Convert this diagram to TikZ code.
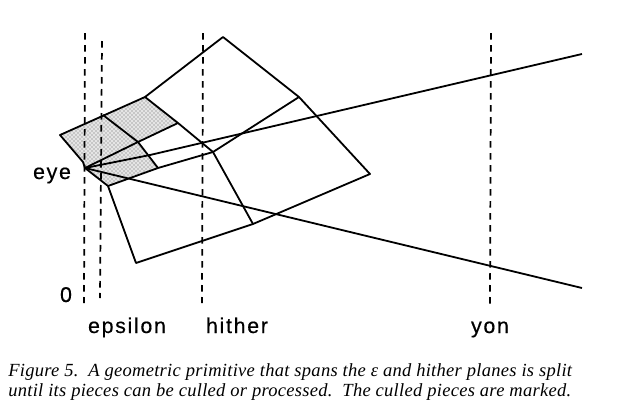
\documentclass[tikz,border=0pt]{standalone}
\usepackage{fontspec}
\usetikzlibrary{patterns}
\newfontfamily\labelfont[LetterSpace=8,FakeBold=0.5]{Liberation Sans}
\newfontfamily\captionfont[Ligatures=TeX,LetterSpace=1.5]{Liberation Serif}
\tikzset{
  plane/.style={line width=1.3pt, dash pattern=on 5pt off 4pt},
  edge/.style={line width=1.35pt, line join=round},
  culled/.style={preaction={fill=black!10}, pattern=crosshatch dots, pattern color=black!60},
  lbl/.style={font=\labelfont\fontsize{16}{18}\selectfont, inner sep=0pt, anchor=base},
  capt/.style={font=\captionfont\itshape\fontsize{13.9}{16}\selectfont, inner sep=0pt, anchor=west}
}

\begin{document}
\begin{tikzpicture}[x=0.75pt,y=-0.75pt]
  \useasboundingbox (0,0) rectangle (619,415);

  % corners of the primitive
  \coordinate (eyept) at (85,168);
  \coordinate (left) at (60,135);
  \coordinate (leftlow) at (83,162);
  \coordinate (topa) at (103,115);
  \coordinate (topb) at (145,97);
  \coordinate (apex) at (223,37);
  \coordinate (rtop) at (299,97);
  \coordinate (rtip) at (370,174);
  \coordinate (botb) at (253,224);
  \coordinate (bota) at (136,263);
  \coordinate (lowa) at (108,186);
  \coordinate (mida) at (138,142);
  \coordinate (midb) at (178,123);
  \coordinate (midc) at (158,168);
  \coordinate (midd) at (213,152);
  \coordinate (mide) at (150,155);
  \coordinate (far) at (582,54);
  \coordinate (farlow) at (582,288);

  % culled pieces
  \fill[culled] (left) -- (topa) -- (mida) -- (eyept) -- (leftlow) -- cycle;
  \fill[culled] (topa) -- (topb) -- (midb) -- (mida) -- cycle;
  \fill[culled] (eyept) -- (mida) -- (midc) -- (lowa) -- cycle;

  % primitive and its splits
  \draw[edge] (eyept) -- (leftlow) -- (left) -- (topb) -- (apex) -- (rtop) -- (rtip) -- (botb) -- (bota) -- (lowa) -- (eyept);
  \draw[edge] (topa) -- (mida) -- (midc);
  \draw[edge] (eyept) -- (mida) -- (midb);
  \draw[edge] (topb) -- (midb) -- (midd) -- (botb);
  \draw[edge] (lowa) -- (midc) -- (midd) -- (rtop);

  % view lines
  \draw[edge] (eyept) -- (mide) -- (far);
  \draw[edge] (eyept) -- (farlow);

  % planes
  \coordinate (eyetop) at (85,33);
  \coordinate (eyebot) at (84,303);
  \coordinate (epstop) at (102,41);
  \coordinate (epsbot) at (100,298);
  \coordinate (hithtop) at (203,33);
  \coordinate (hithbot) at (202,303);
  \coordinate (yontop) at (491,33);
  \coordinate (yonbot) at (490,305);
  \draw[plane] (eyetop) -- (eyebot);
  \draw[plane] (epstop) -- (epsbot);
  \draw[plane] (hithtop) -- (hithbot);
  \draw[plane] (yontop) -- (yonbot);

  \node[lbl] (eyelbl) at (52,179) {eye};
  \node[lbl] (zerolbl) at (66,302) {0};
  \node[lbl] (epslbl) at (127,333) {epsilon};
  \node[lbl] (hithlbl) at (237,333) {hither};
  \node[lbl] (yonlbl) at (490,333) {yon};

  \node[capt] (capta) at (8,372) {Figure 5.\ \ A geometric primitive that spans the ε and hither planes is split};
  \node[capt] (captb) at (8,392) {until its pieces can be culled or processed.\ \ The culled pieces are marked.};
\end{tikzpicture}
\end{document}
